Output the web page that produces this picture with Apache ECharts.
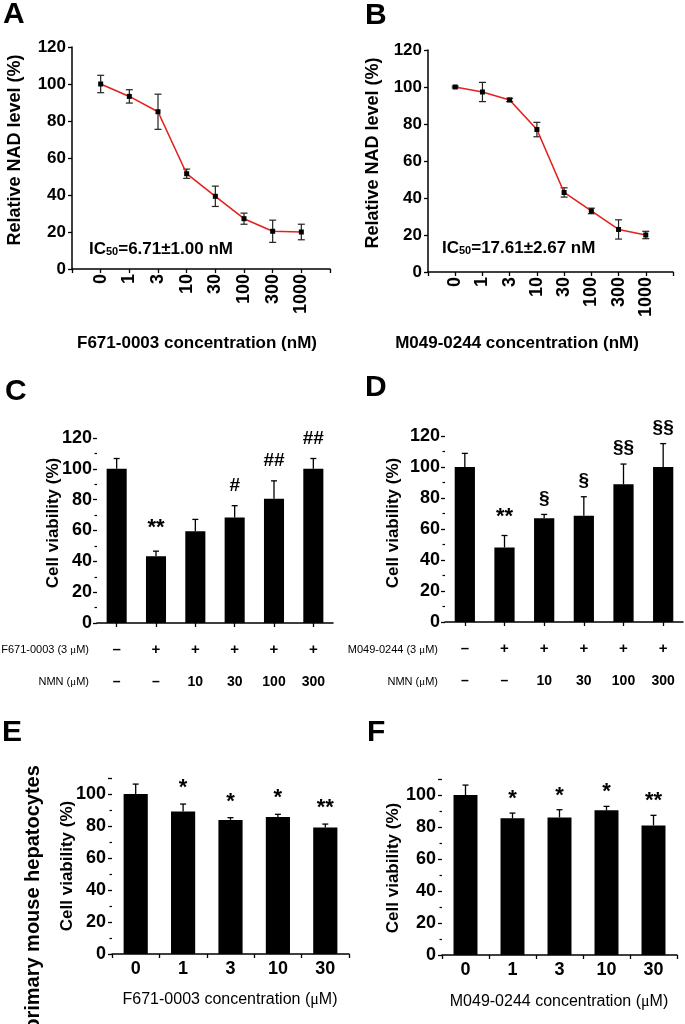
<!DOCTYPE html>
<html><head><meta charset="utf-8">
<script src="https://cdn.jsdelivr.net/npm/echarts@6/dist/echarts.min.js"></script>
<style>html,body{margin:0;padding:0;background:#fff}#c{width:685px;height:1024px}</style>
</head><body><div id="c"></div>
<script>
// ---------- DATA ----------
const concLabels = ['0', '1', '3', '10', '30', '100', '300', '1000'];
const nadA = [100, 93.3, 85, 51.5, 39.3, 27.2, 20.4, 20];
const nadAErr = [4.7, 3.6, 9.5, 2.5, 5.5, 3, 6, 4.2];
const nadB = [100, 97.3, 93, 77, 43, 33, 23, 20];
const nadBErr = [0.5, 5.2, 0.9, 3.9, 2.5, 1.5, 5.2, 2];

const groupIds = ['g1', 'g2', 'g3', 'g4', 'g5', 'g6'];
const treatRow = ['–', '+', '+', '+', '+', '+'];
const nmnRow = ['–', '–', '10', '30', '100', '300'];
const cVals = [100, 43.3, 59.5, 68.5, 80.6, 100];
const cErr = [6.7, 3.3, 7.7, 7.6, 11.6, 6.7];
const cMarks = ['', '**', '', '#', '##', '##'];
const dVals = [100, 48.1, 67, 68.5, 88.8, 100];
const dErr = [8.8, 7.7, 2.4, 12.3, 13.1, 15.1];
const dMarks = ['', '**', '§', '§', '§§', '§§'];

const hepCats = ['0', '1', '3', '10', '30'];
const eVals = [100, 89.1, 83.8, 85.6, 79.1];
const eErr = [6.2, 4.6, 1.4, 1.7, 2.1];
const eMarks = ['', '*', '*', '*', '**'];
const fVals = [100, 85.4, 86, 90.4, 81];
const fErr = [6.2, 3.3, 4.8, 2.5, 6.3];
const fMarks = ['', '*', '*', '*', '**'];

// ---------- STYLE ----------
const SANS = 'Liberation Sans, Arial, sans-serif';
const NARROW = 'Liberation Sans Narrow, Arial Narrow, Liberation Sans, sans-serif';
const SERIF = 'Liberation Serif, Times New Roman, serif';
const AX = {lineStyle: {color: '#000', width: 1.5}, onZero: false};
const TICK = {show: true, inside: false, length: 4, lineStyle: {color: '#000', width: 1.3}};
const MINOR = {show: true, splitNumber: 2, length: 2.5, lineStyle: {color: '#000', width: 1.2}};

const chart = echarts.init(document.getElementById('c'), null, {renderer: 'canvas'});

function errLineRender(params, api) {
  const x = api.value(0), y = api.value(1), e = api.value(2);
  const t = api.coord([x, y + e]), b = api.coord([x, y - e]);
  const w = 3.5, st = {stroke: '#222', lineWidth: 1.2};
  return {type: 'group', children: [
    {type: 'line', shape: {x1: t[0], y1: t[1], x2: b[0], y2: b[1]}, style: st},
    {type: 'line', shape: {x1: t[0] - w, y1: t[1], x2: t[0] + w, y2: t[1]}, style: st},
    {type: 'line', shape: {x1: b[0] - w, y1: b[1], x2: b[0] + w, y2: b[1]}, style: st}
  ]};
}
function barErrRender(marks, offset, font) {
  return function (params, api) {
    const i = api.value(0), v = api.value(1), e = api.value(2);
    const base = api.coord([i, v]), top = api.coord([i, v + e]);
    const w = 3, st = {stroke: '#000', lineWidth: 1.3};
    const ch = [
      {type: 'line', shape: {x1: base[0], y1: base[1], x2: top[0], y2: top[1]}, style: st},
      {type: 'line', shape: {x1: top[0] - w, y1: top[1], x2: top[0] + w, y2: top[1]}, style: st}
    ];
    const m = marks[params.dataIndex];
    if (m) ch.push({type: 'text', x: top[0], y: top[1] - offset,
      style: Object.assign({text: m, fill: '#000', align: 'center', verticalAlign: 'middle'}, font)});
    return {type: 'group', children: ch};
  };
}

const grids = [
  {left: 72, top: 47, width: 258, height: 222},
  {left: 428, top: 50, width: 245, height: 222},
  {left: 97, top: 438, width: 236, height: 185},
  {left: 445, top: 436, width: 238, height: 186},
  {left: 112, top: 778, width: 237, height: 176},
  {left: 442, top: 779, width: 235, height: 176}
];

function concAxis(gi) {
  return {type: 'value', gridIndex: gi, min: -1, max: 8, interval: 1,
    axisLine: AX, axisTick: TICK, splitLine: {show: false},
    axisLabel: {rotate: 90, margin: 5, color: '#000', fontFamily: SANS, fontWeight: 'bold', fontSize: 18,
      formatter: v => (v >= 0 && v < concLabels.length) ? concLabels[v] : ''}};
}
function groupAxis(gi) {
  return {type: 'category', gridIndex: gi, data: groupIds,
    axisLine: AX, axisTick: Object.assign({}, TICK, {alignWithLabel: true, interval: 0}),
    axisLabel: {interval: 0, margin: 11, color: '#000', lineHeight: 32,
      formatter: (val, idx) => '{t|' + treatRow[idx] + '}\n{n|' + nmnRow[idx] + '}',
      rich: {t: {fontFamily: SANS, fontWeight: 'bold', fontSize: 15, lineHeight: 32},
             n: {fontFamily: NARROW, fontWeight: 'bold', fontSize: 14, lineHeight: 32}}}};
}
function hepAxis(gi) {
  return {type: 'category', gridIndex: gi, data: hepCats,
    axisLine: AX, axisTick: Object.assign({}, TICK, {interval: 0}),
    axisLabel: {interval: 0, margin: 6, color: '#000', fontFamily: SANS, fontWeight: 'bold', fontSize: 18}};
}
function valAxis(gi, max, minor, font, size, margin) {
  return {type: 'value', gridIndex: gi, min: 0, max: max, interval: 20,
    axisLine: AX, axisTick: TICK, minorTick: minor ? MINOR : {show: false}, splitLine: {show: false},
    axisLabel: {margin: margin, color: '#000', fontFamily: font, fontWeight: 'bold', fontSize: size,
      formatter: v => v > 100 && max === 110 ? '' : String(v)}};
}

const series = [];
[[0, nadA, nadAErr], [1, nadB, nadBErr]].forEach(([gi, vals, errs]) => {
  series.push({type: 'custom', xAxisIndex: gi, yAxisIndex: gi, z: 2, renderItem: errLineRender,
    data: vals.map((v, i) => [i, v, errs[i]])});
  series.push({type: 'line', xAxisIndex: gi, yAxisIndex: gi, z: 3, data: vals.map((v, i) => [i, v]),
    lineStyle: {color: '#e3221f', width: 1.6}, symbol: 'rect', symbolSize: 5,
    itemStyle: {color: '#000', borderWidth: 0}});
});
const symFont = {fontFamily: NARROW, fontWeight: 'bold', fontSize: 19};
const starFont = {fontFamily: SANS, fontWeight: 'bold', fontSize: 22};
[[2, cVals, cErr, cMarks, 20], [3, dVals, dErr, dMarks, 16], [4, eVals, eErr, eMarks, 13], [5, fVals, fErr, fMarks, 11]].forEach(([gi, vals, errs, marks, off]) => {
  series.push({type: 'bar', xAxisIndex: gi, yAxisIndex: gi, data: vals, barWidth: '51%',
    itemStyle: {color: '#000'}, z: 2});
  series.push({type: 'custom', xAxisIndex: gi, yAxisIndex: gi, z: 3,
    renderItem: (params, api) => {
      const m = marks[params.dataIndex];
      const isStar = !!m && m.indexOf('*') >= 0;
      return barErrRender(marks, isStar ? off + 3 : off, isStar ? starFont : symFont)(params, api);
    },
    data: vals.map((v, i) => [i, v, errs[i]])});
});

function txt(x, y, text, size, opts) {
  return Object.assign({type: 'text', x: x, y: y, silent: true,
    style: {text: text, fill: '#000', fontFamily: SANS, fontWeight: 'bold', fontSize: size,
      align: 'center', verticalAlign: 'middle'}}, opts || {});
}
function letter(x, y, t) {
  return {type: 'text', x: x, y: y, silent: true,
    style: {text: t, fill: '#000', fontFamily: SANS, fontWeight: 'bold', fontSize: 30, align: 'left', verticalAlign: 'middle'}};
}
function rot(x, y, text, size) {
  return txt(x, y, text, size, {rotation: Math.PI / 2});
}
function richTxt(x, y, text, rich, align) {
  return {type: 'text', x: x, y: y, silent: true,
    style: {text: text, rich: rich, fill: '#000', align: align || 'left', verticalAlign: 'middle'}};
}
const icRich = {a: {fontFamily: SANS, fontWeight: 'bold', fontSize: 17, fill: '#000'},
  s: {fontFamily: SANS, fontWeight: 'bold', fontSize: 11, fill: '#000', verticalAlign: 'bottom', padding: [6, 0, 0, 0]}};
const rowRich = {a: {fontFamily: NARROW, fontSize: 11, fill: '#000'},
  m: {fontFamily: SERIF, fontSize: 11, fill: '#000'}};
const xtRich = {a: {fontFamily: SANS, fontSize: 16, fill: '#000'},
  m: {fontFamily: SERIF, fontSize: 16, fill: '#000'}};

const graphic = [
  letter(3, 15, 'A'), letter(365, 16, 'B'), letter(5, 392, 'C'),
  letter(365, 388, 'D'), letter(2, 733, 'E'), letter(367, 733, 'F'),
  rot(15, 150, 'Relative NAD level (%)', 18),
  rot(373, 153, 'Relative NAD level (%)', 18),
  txt(197, 343, 'F671-0003 concentration (nM)', 17),
  txt(517, 343, 'M049-0244 concentration (nM)', 17),
  richTxt(89, 249, '{a|IC}{s|50}{a|=6.71±1.00 nM}', icRich),
  richTxt(442, 248, '{a|IC}{s|50}{a|=17.61±2.67 nM}', icRich),
  rot(53, 523, 'Cell viability (%)', 17),
  rot(393, 523, 'Cell viability (%)', 17),
  richTxt(89, 650, '{a|F671-0003 (3 }{m|μ}{a|M)}', rowRich, 'right'),
  richTxt(89, 682, '{a|NMN (}{m|μ}{a|M)}', rowRich, 'right'),
  richTxt(438, 650, '{a|M049-0244 (3 }{m|μ}{a|M)}', rowRich, 'right'),
  richTxt(438, 682, '{a|NMN (}{m|μ}{a|M)}', rowRich, 'right'),
  rot(33, 898, 'primary mouse hepatocytes', 20),
  rot(67, 866, 'Cell viability (%)', 17),
  rot(393, 868, 'Cell viability (%)', 17),
  richTxt(230, 1000, '{a|F671-0003 concentration (}{m|μ}{a|M)}', xtRich, 'center'),
  richTxt(559, 1002, '{a|M049-0244 concentration (}{m|μ}{a|M)}', xtRich, 'center')
];

chart.setOption({
  animation: false,
  backgroundColor: '#fff',
  grid: grids,
  xAxis: [concAxis(0), concAxis(1), groupAxis(2), groupAxis(3), hepAxis(4), hepAxis(5)],
  yAxis: [valAxis(0, 120, false, SANS, 17, 6), valAxis(1, 120, false, SANS, 17, 6),
          valAxis(2, 120, true, NARROW, 18, 5), valAxis(3, 120, true, NARROW, 18, 5),
          valAxis(4, 110, true, SANS, 18, 6), valAxis(5, 110, true, SANS, 18, 6)],
  series: series,
  graphic: graphic
});
</script></body></html>
